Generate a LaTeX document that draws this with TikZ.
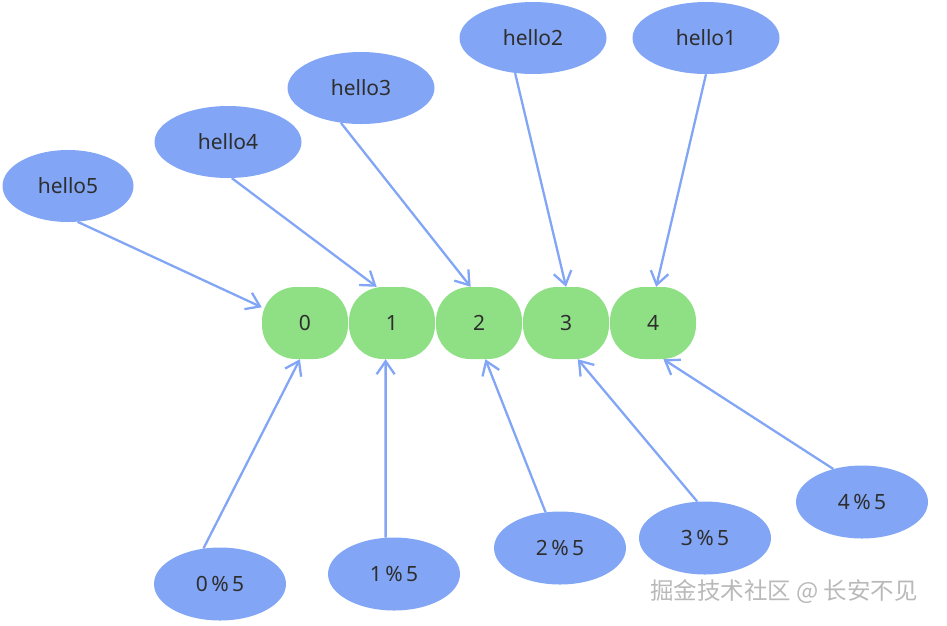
\documentclass[tikz,border=0pt]{standalone}
\usepackage{fontspec}
\setmainfont{Noto Sans}
\newfontfamily\cjk{Noto Sans CJK SC}
\usetikzlibrary{arrows.meta,shapes.geometric}

\definecolor{slotgreen}{HTML}{8FE085}
\definecolor{keyblue}{HTML}{82A6F5}
\definecolor{inktext}{HTML}{2E2E2E}

\tikzset{
  slot/.style={draw=none, fill=slotgreen, rounded corners=34pt, minimum width=86pt,
    minimum height=72pt, inner sep=0pt, text=inktext, font=\fontsize{21}{24}\selectfont},
  keynode/.style={ellipse, fill=keyblue, inner sep=0pt, minimum width=147pt,
    minimum height=72pt, text=inktext, font=\fontsize{21}{24}\selectfont},
  link/.style={draw=keyblue, line width=2.3pt, -{Straight Barb[length=13pt,width=18pt,line width=2.3pt]}}
}

\begin{document}
\begin{tikzpicture}[x=1pt, y=-1pt]
    \useasboundingbox (0,0) rectangle (947,625);

    % Hash slots
    \foreach \i in {0,...,4} {
        \node[slot] (s\i) at (305+87*\i, 323) {\i};
    }

    % Keys on top
    \node[keynode, minimum width=131pt] (h5) at (68,186) {hello5};
    \node[keynode] (h4) at (228,142) {hello4};
    \node[keynode] (h3) at (361,88) {hello3};
    \node[keynode] (h2) at (533,38) {hello2};
    \node[keynode] (h1) at (706,38) {hello1};

    % Modulo results below
    \node[keynode, minimum width=132pt, minimum height=73pt] (m0) at (220,584) {0\,\%\,5};
    \node[keynode, minimum width=132pt, minimum height=73pt] (m1) at (394,574) {1\,\%\,5};
    \node[keynode, minimum width=132pt, minimum height=73pt] (m2) at (560,548) {2\,\%\,5};
    \node[keynode, minimum width=132pt, minimum height=73pt] (m3) at (705,538) {3\,\%\,5};
    \node[keynode, minimum width=132pt, minimum height=73pt] (m4) at (862,502) {4\,\%\,5};

    % Arrows
    \draw[link] (h5.-75) -- (s0.160);
    \draw[link] (h4.-84) -- (s1.113);
    \draw[link] (h3.240) -- (s2.103);
    \draw[link] (h2.243) -- (s3.90);
    \draw[link] (h1.-90) -- (s4.85);
    \draw[link] (m0.115) -- (s0.-98);
    \draw[link] (m1.103) -- (s1.-100);
    \draw[link] (m2.112) -- (s2.-80);
    \draw[link] (m3.102) -- (s3.-72);
    \draw[link] (m4.131) -- (s4.-74);

    % Watermark
    \node[text=gray!55, font=\cjk\fontsize{23.5}{26}\selectfont] (mark) at (784,592) {掘金技术社区 @ 长安不见};
\end{tikzpicture}
\end{document}
